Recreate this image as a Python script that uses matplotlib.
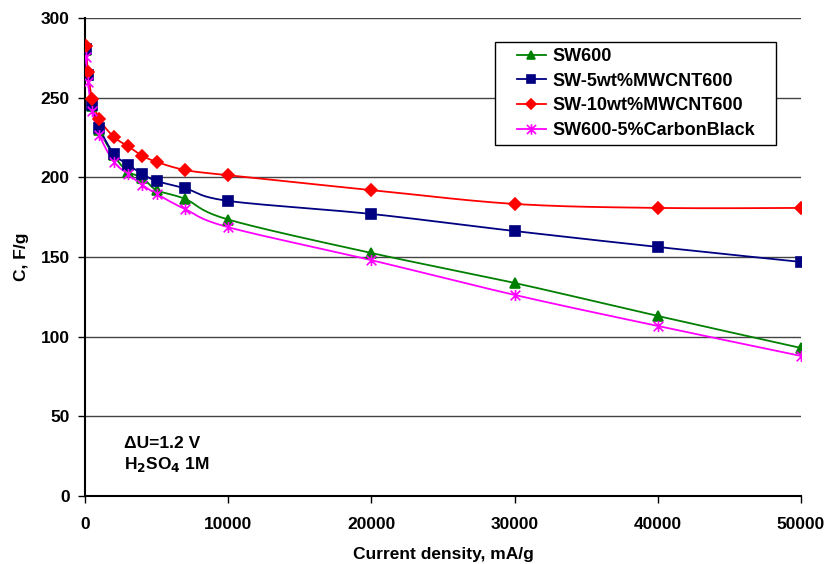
import numpy as np
import matplotlib
matplotlib.use("Agg")
import matplotlib.pyplot as plt
from matplotlib.path import Path
from matplotlib.patches import Rectangle

plt.rcParams['font.family'] = ['Liberation Sans', 'DejaVu Sans']
plt.rcParams['font.weight'] = 'bold'

current = [50, 200, 500, 1000, 2000, 3000, 4000, 5000, 7000, 10000, 20000, 30000, 40000, 50000]
sw600 = [280, 265, 245, 230, 213.8, 203.6, 199.8, 192, 186.4, 173.5, 152.5, 133.7, 113, 92.9]
sw_5mwcnt = [280.4, 264, 245.2, 231.2, 214.9, 208, 202.1, 197.7, 193.1, 185.2, 177, 166.3, 156.3, 146.9]
sw_10mwcnt = [282.6, 266, 249.4, 236.5, 225.5, 219.5, 213.6, 209.7, 204.6, 201.3, 192, 183.3, 180.8, 180.8]
sw_cb = [275.8, 260, 241.7, 226.6, 209.9, 202.1, 195.2, 189.6, 180, 168.7, 148, 126.2, 106.7, 87.9]

series_names = ["SW600", "SW-5wt%MWCNT600", "SW-10wt%MWCNT600", "SW600-5%CarbonBlack"]
series_vals = [sw600, sw_5mwcnt, sw_10mwcnt, sw_cb]
colors = ["#008000", "#000080", "#FF0000", "#FF00FF"]

asterisk = Path([(0, -1), (0, 1), (-0.87, -0.87), (0.87, 0.87), (-0.87, 0.87), (0.87, -0.87)],
                [Path.MOVETO, Path.LINETO, Path.MOVETO, Path.LINETO, Path.MOVETO, Path.LINETO])
markers = ["^", "s", "D", asterisk]
msizes = [6.5, 6.5, 6, 8]


def smooth(x, y, n=20):
    # Bezier smoothing between consecutive points (Excel-like smoothed line)
    x = np.asarray(x, float); y = np.asarray(y, float)
    px = np.concatenate([[x[0]], x, [x[-1]]])
    py = np.concatenate([[y[0]], y, [y[-1]]])
    xs, ys = [], []
    for i in range(1, len(px) - 2):
        p0, p1, p2, p3 = (px[i-1], py[i-1]), (px[i], py[i]), (px[i+1], py[i+1]), (px[i+2], py[i+2])
        t = np.linspace(0, 1, n, endpoint=False)
        c1x = p1[0] + (p2[0] - p0[0]) / 6; c1y = p1[1] + (p2[1] - p0[1]) / 6
        c2x = p2[0] - (p3[0] - p1[0]) / 6; c2y = p2[1] - (p3[1] - p1[1]) / 6
        bx = (1-t)**3*p1[0] + 3*(1-t)**2*t*c1x + 3*(1-t)*t**2*c2x + t**3*p2[0]
        by = (1-t)**3*p1[1] + 3*(1-t)**2*t*c1y + 3*(1-t)*t**2*c2y + t**3*p2[1]
        xs.extend(bx); ys.extend(by)
    xs.append(x[-1]); ys.append(y[-1])
    return np.array(xs), np.array(ys)


fig = plt.figure(figsize=(8.26, 5.64), dpi=100)
ax = fig.add_axes([85/826, 68/564, 716/826, 478/564])

for name, vals, c, m, ms in zip(series_names, series_vals, colors, markers, msizes):
    sx, sy = smooth(current, vals)
    ax.plot(sx, sy, color=c, lw=1.3, zorder=3)
    ax.plot(current, vals, linestyle='none', marker=m, color=c, markersize=ms,
            markeredgecolor=c, markeredgewidth=1.2, zorder=4)
    ax.plot([], [], color=c, lw=1.3, marker=m, markersize=ms - 0.5,
            markeredgecolor=c, markeredgewidth=1.2, label=name)

ax.set_xlim(0, 50000)
ax.set_ylim(0, 300)
ax.set_xticks(np.arange(0, 50001, 10000))
ax.set_yticks(np.arange(0, 301, 50))
ax.yaxis.grid(True, color='#444444', lw=1)
ax.set_axisbelow(True)
for s in ['top', 'right']:
    ax.spines[s].set_visible(False)
ax.spines['left'].set_linewidth(1.5)
ax.spines['bottom'].set_linewidth(1.5)
ax.tick_params(axis='y', direction='out', length=5, width=1, labelsize=12.5, pad=6)
ax.tick_params(axis='x', direction='out', length=5, width=1, labelsize=12.5, pad=10)
for lab in ax.get_xticklabels() + ax.get_yticklabels():
    lab.set_fontweight('bold')
ax.set_xlabel("Current density, mA/g", fontsize=12.5, fontweight='bold', labelpad=11)
ax.set_ylabel("C, F/g", fontsize=12.5, fontweight='bold', labelpad=8)

ax.text(0.055, 0.100, "\u0394U=1.2 V", transform=ax.transAxes, fontsize=12.5,
        fontweight='bold', va='baseline')
ax.text(0.055, 0.056, "H$_\\mathbf{2}$SO$_\\mathbf{4}$ 1M", transform=ax.transAxes,
        fontsize=12.5, fontweight='bold', va='baseline')

leg = ax.legend(loc='upper right', bbox_to_anchor=(0.944, 0.950), frameon=False,
                borderpad=0.35, handlelength=1.6, handletextpad=0.35, labelspacing=0.42,
                borderaxespad=0, prop={'weight': 'bold', 'size': 13})
leg.set_zorder(6)

# frame with extra horizontal padding, like the original legend box
fig.canvas.draw()
bb = leg.get_window_extent(fig.canvas.get_renderer())
dx = 15
W, H = fig.bbox.width, fig.bbox.height
frame = Rectangle(((bb.x0 - dx) / W, bb.y0 / H), (bb.width + 2 * dx) / W, bb.height / H,
                  transform=fig.transFigure, facecolor='white', edgecolor='black',
                  lw=1, zorder=5)
ax.add_artist(frame)
frame.set_clip_on(False)

fig.savefig("out.png", dpi=100)
